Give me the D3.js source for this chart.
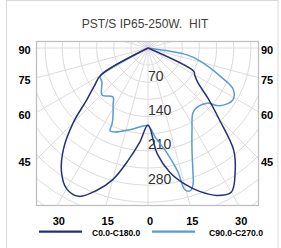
<!DOCTYPE html>
<html><head><meta charset="utf-8">
<script src="https://cdn.jsdelivr.net/npm/d3@7"></script>
<style>html,body{margin:0;padding:0;background:#fff}svg{display:block}</style>
</head><body>
<script>
// ---- data ----
const title = "PST/S IP65-250W.  HIT";
const seriesNames = ["C0.0-C180.0", "C90.0-C270.0"];
const darkAngles = [-90,-65,-60,-55,-50,-45,-40,-35,-30,-25,-20,-15,-10,-5,0,5,10,15,20,25,30,35,40,45,50,55,60,63,66,90];
const darkValues = [0,0,112,133,162,216,268,308,332,334,310,278,233,193,157,217,258,287,312,332,340,310,272,205,160,125,110,105,0,0];
const lightAngles = [-90,-66,-61,-59,-53.5,-44.4,-35.5,-31.6,-26.9,-25.3,-24.6,-21.4,-10.5,0,4.5,10.3,13.6,14.6,16.4,18.2,20.2,23.3,28.2,34.7,39.7,47,51.1,58.5,64.2,68.7,76,80,90];
const lightValues = [0,0,105,114,117,134,123,136,158,172,186,184,168,159,182,218,260,299,304,294,265,227,190,161,157,165,188,203,193,158,109,81,0];
const ringLabels = [70,140,210,280];
const sideLabels = [90,75,60,45];
const bottomAngles = [-30,-15,0,15,30];

// ---- layout ----
const W = 281, H = 248;
const cx = 148, cy = 48;
const fr = {x0:36, y0:41, x1:259, y1:206};
const svg = d3.select("body").append("svg").attr("width",W).attr("height",H);
const font = "'Liberation Sans', Arial, sans-serif";

const r = d3.scaleLinear().domain([0,350]).range([0,171.5]);
const a = d3.scaleLinear().domain([-180,180]).range([2*Math.PI,0]);

// outer chart border
svg.append("rect").attr("x",6.5).attr("y",0.5).attr("width",271.5).attr("height",252)
  .attr("fill","none").attr("stroke","#d9d9d9");

svg.append("text").attr("x",145).attr("y",27.5).attr("text-anchor","middle")
  .attr("font-family",font).attr("font-size",12).attr("fill","#404040")
  .style("white-space","pre").text(title);

svg.append("clipPath").attr("id","clip").append("rect")
  .attr("x",fr.x0).attr("y",fr.y0).attr("width",fr.x1-fr.x0).attr("height",fr.y1-fr.y0);

const g = svg.append("g").attr("clip-path","url(#clip)");
const c = g.append("g").attr("transform",`translate(${cx},${cy})`);

// grid circles
c.selectAll("circle.grid").data(d3.range(35,460,35)).join("circle")
  .attr("r",d=>r(d)).attr("fill","none").attr("stroke","#dcdcdc").attr("stroke-width",1);
// radial lines
c.selectAll("line.spoke").data(d3.range(-180,180,15)).join("line")
  .attr("x1",0).attr("y1",0)
  .attr("x2",d=>r(460)*Math.sin(a(d))).attr("y2",d=>-r(460)*Math.cos(a(d)))
  .attr("stroke","#dcdcdc").attr("stroke-width",1);

// frame
svg.append("rect").attr("x",fr.x0+0.5).attr("y",fr.y0+0.5)
  .attr("width",fr.x1-fr.x0-1).attr("height",fr.y1-fr.y0-1)
  .attr("fill","none").attr("stroke","#bfbfbf").attr("stroke-width",1.3);

// ring labels
c.selectAll("text.ring").data(ringLabels).join("text")
  .attr("x",0).attr("y",d=>r(d)-1.5)
  .attr("font-family",font).attr("font-size",14).attr("fill","#333")
  .text(d=>d);

// curves
const line = d3.lineRadial().curve(d3.curveCatmullRom.alpha(0.5));
const lightPts = lightAngles.map((d,i)=>[a(d), r(lightValues[i])]);
const darkPts = darkAngles.map((d,i)=>[a(d), r(darkValues[i])]);
c.append("path").attr("d",line(lightPts)).attr("fill","none")
  .attr("stroke","#5b9bd5").attr("stroke-width",1.5).attr("stroke-linejoin","round");
c.append("path").attr("d",line(darkPts)).attr("fill","none")
  .attr("stroke","#26307a").attr("stroke-width",1.5).attr("stroke-linejoin","round");

// side angle labels
const halfW = cx - fr.x0;
sideLabels.forEach(t=>{
  const rad = t*Math.PI/180;
  const y = cy + halfW*Math.cos(rad)/Math.sin(rad) + 2;
  [24.5, 267].forEach(x=>{
    svg.append("text").attr("x",x).attr("y",y).attr("text-anchor","middle")
      .attr("dominant-baseline","central")
      .attr("font-family",font).attr("font-size",11).attr("font-weight","bold").attr("fill","#000")
      .text(t);
  });
});
// bottom angle labels
bottomAngles.forEach(t=>{
  const rad = t*Math.PI/180;
  const x = cx + (fr.y1-cy)*Math.tan(rad) + 2;
  svg.append("text").attr("x",x).attr("y",221).attr("text-anchor","middle")
    .attr("dominant-baseline","central")
    .attr("font-family",font).attr("font-size",11).attr("font-weight","bold").attr("fill","#000")
    .text(Math.abs(t));
});

// legend
const leg = [{x:39, tx:92, col:"#26307a", fs:8.5},{x:152, tx:209, col:"#5b9bd5", fs:8.7}];
leg.forEach((l,i)=>{
  svg.append("line").attr("x1",l.x).attr("x2",l.x+43).attr("y1",231.7).attr("y2",231.7)
    .attr("stroke",l.col).attr("stroke-width",2.2);
  svg.append("text").attr("x",l.tx).attr("y",232.5).attr("dominant-baseline","central")
    .attr("font-family",font).attr("font-size",l.fs).attr("font-weight","bold").attr("fill","#000")
    .text(seriesNames[i]);
});
</script>
</body></html>
